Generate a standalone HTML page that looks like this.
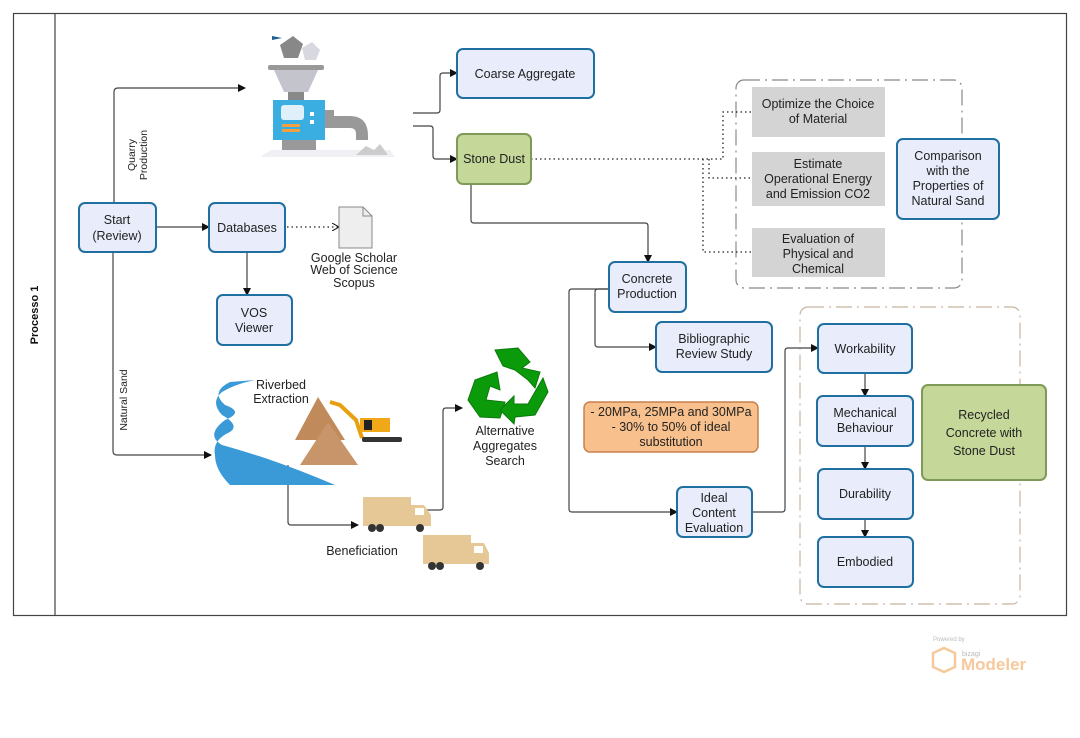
<!DOCTYPE html>
<html><head><meta charset="utf-8"><style>
html,body{margin:0;padding:0;background:#fff;}
svg{display:block;font-family:"Liberation Sans","DejaVu Sans",sans-serif;}
.n{fill:#e8ecfb;stroke:#1f6fa0;stroke-width:2;}
.t{font-size:12.5px;fill:#222;text-anchor:middle;}
.c{fill:none;stroke:#444;stroke-width:1.2;}
.d{fill:none;stroke:#222;stroke-width:1.3;stroke-dasharray:1.5 3;}
.g{fill:#d4d4d4;}
</style></head><body>
<svg width="1080" height="738" viewBox="0 0 1080 738">
<defs><marker id="a" markerWidth="8" markerHeight="8" refX="7" refY="4" orient="auto" markerUnits="userSpaceOnUse"><path d="M0,0 L8,4 L0,8 z" fill="#111"/></marker>
<marker id="o" markerWidth="8" markerHeight="8" refX="7" refY="4" orient="auto" markerUnits="userSpaceOnUse"><path d="M0,0 L7,4 L0,8" fill="none" stroke="#111"/></marker></defs>
<rect x="13.5" y="13.5" width="1053" height="602" fill="#fff" stroke="#444" stroke-width="1.2"/>
<line x1="55" y1="13" x2="55" y2="616" stroke="#444" stroke-width="1.2"/>
<text x="38" y="315" transform="rotate(-90 38 315)" font-size="11" font-weight="bold" text-anchor="middle" fill="#111">Processo 1</text>

<!-- dashed groups -->
<rect x="736" y="80" width="226" height="208" rx="8" fill="none" stroke="#888" stroke-width="1.2" stroke-dasharray="16 5 2 5"/>
<rect x="800" y="307" width="220" height="297" rx="8" fill="none" stroke="#c8b4a0" stroke-width="1.2" stroke-dasharray="16 5 2 5"/>

<!-- connectors -->
<path class="c" d="M114,203 V92 Q114,88 118,88 H245" marker-end="url(#a)"/>
<path class="c" d="M156,227 H209" marker-end="url(#a)"/>
<path class="c" d="M113,252 V451 Q113,455 117,455 H211" marker-end="url(#a)"/>
<path class="c" d="M247,252 V295" marker-end="url(#a)"/>
<path class="d" d="M287,227 H339" marker-end="url(#o)"/>
<path class="c" d="M413,113 H437 Q440,113 440,110 V76 Q440,73 443,73 H457" marker-end="url(#a)"/>
<path class="c" d="M413,126 H430 Q433,126 433,129 V156 Q433,159 436,159 H457" marker-end="url(#a)"/>
<path class="c" d="M471,184 V220 Q471,223 474,223 H645 Q648,223 648,226 V262" marker-end="url(#a)"/>
<path class="d" d="M531,159 H723 V112 H752"/>
<path class="d" d="M709,159 V178 H752"/>
<path class="d" d="M703,159 V252 H752"/>
<path class="c" d="M609,289 H572 Q569,289 569,292 V509 Q569,512 572,512 H677" marker-end="url(#a)"/>
<path class="c" d="M609,289 H598 Q595,289 595,292 V344 Q595,347 598,347 H656" marker-end="url(#a)"/>
<path class="c" d="M752,512 H782 Q785,512 785,509 V351 Q785,348 788,348 H818" marker-end="url(#a)"/>
<path class="c" d="M865,373 V396" marker-end="url(#a)"/>
<path class="c" d="M865,446 V469" marker-end="url(#a)"/>
<path class="c" d="M865,519 V537" marker-end="url(#a)"/>
<path class="c" d="M288,465 V522 Q288,525 291,525 H358" marker-end="url(#a)"/>
<path class="c" d="M425,510 H440 Q443,510 443,507 V411 Q443,408 446,408 H462" marker-end="url(#a)"/>

<!-- nodes -->
<rect class="n" x="79" y="203" width="77" height="49" rx="6"/>
<text class="t" x="117" y="224">Start</text><text class="t" x="117" y="240">(Review)</text>
<rect class="n" x="209" y="203" width="76" height="49" rx="6"/>
<text class="t" x="247" y="232">Databases</text>
<rect class="n" x="217" y="295" width="75" height="50" rx="6"/>
<text class="t" x="254" y="317">VOS</text><text class="t" x="254" y="332">Viewer</text>
<path d="M339,207 H363 L372,216 V248 H339 Z" fill="#eee" stroke="#888"/>
<path d="M363,207 V216 H372" fill="none" stroke="#888"/>
<text class="t" x="354" y="262" font-size="10.5">Google Scholar</text>
<text class="t" x="354" y="274" font-size="10.5">Web of Science</text>
<text class="t" x="354" y="287" font-size="10.5">Scopus</text>

<rect class="n" x="457" y="49" width="137" height="49" rx="6"/>
<text class="t" x="525" y="78">Coarse Aggregate</text>
<rect x="457" y="134" width="74" height="50" rx="6" fill="#c5d89a" stroke="#7f9a58" stroke-width="2"/>
<text class="t" x="494" y="163">Stone Dust</text>

<rect class="g" x="752" y="87" width="133" height="50"/>
<text class="t" x="818" y="108">Optimize the Choice</text><text class="t" x="818" y="123">of Material</text>
<rect class="g" x="752" y="152" width="133" height="54"/>
<text class="t" x="818" y="168">Estimate</text><text class="t" x="818" y="183">Operational Energy</text><text class="t" x="818" y="198">and Emission CO2</text>
<rect class="g" x="752" y="228" width="133" height="49"/>
<text class="t" x="818" y="243">Evaluation of</text><text class="t" x="818" y="258">Physical and</text><text class="t" x="818" y="273">Chemical</text>
<rect class="n" x="897" y="139" width="102" height="80" rx="6"/>
<text class="t" x="948" y="160">Comparison</text><text class="t" x="948" y="175">with the</text><text class="t" x="948" y="190">Properties of</text><text class="t" x="948" y="205">Natural Sand</text>

<rect class="n" x="609" y="262" width="77" height="50" rx="6"/>
<text class="t" x="647" y="283">Concrete</text><text class="t" x="647" y="298">Production</text>
<rect class="n" x="656" y="322" width="116" height="50" rx="6"/>
<text class="t" x="714" y="343">Bibliographic</text><text class="t" x="714" y="358">Review Study</text>
<rect x="584" y="402" width="174" height="50" rx="6" fill="#f8c08c" stroke="#c8804c" stroke-width="1.5"/>
<text class="t" x="671" y="416">- 20MPa, 25MPa and 30MPa</text><text class="t" x="671" y="431">- 30% to 50% of ideal</text><text class="t" x="671" y="446">substitution</text>
<rect class="n" x="677" y="487" width="75" height="50" rx="6"/>
<text class="t" x="714" y="502">Ideal</text><text class="t" x="714" y="517">Content</text><text class="t" x="714" y="532">Evaluation</text>

<rect class="n" x="818" y="324" width="94" height="49" rx="6"/>
<text class="t" x="865" y="353">Workability</text>
<rect class="n" x="817" y="396" width="96" height="50" rx="6"/>
<text class="t" x="865" y="417">Mechanical</text><text class="t" x="865" y="432">Behaviour</text>
<rect class="n" x="818" y="469" width="95" height="50" rx="6"/>
<text class="t" x="865" y="498">Durability</text>
<rect class="n" x="818" y="537" width="95" height="50" rx="6"/>
<text class="t" x="865" y="566">Embodied</text>
<rect x="922" y="385" width="124" height="95" rx="6" fill="#c5d89a" stroke="#7f9a58" stroke-width="2"/>
<text class="t" x="984" y="419" font-size="14">Recycled</text><text class="t" x="984" y="437" font-size="14">Concrete with</text><text class="t" x="984" y="455" font-size="14">Stone Dust</text>

<!-- labels -->
<text x="141" y="155" transform="rotate(-90 141 155)" font-size="10.5" text-anchor="middle" fill="#222"><tspan x="141" dy="-6">Quarry</tspan><tspan x="141" dy="12">Production</tspan></text>
<text x="127" y="400" transform="rotate(-90 127 400)" font-size="10.5" text-anchor="middle" fill="#222">Natural Sand</text>
<text class="t" x="281" y="389">Riverbed</text><text class="t" x="281" y="403">Extraction</text>
<text class="t" x="362" y="555">Beneficiation</text>
<text class="t" x="505" y="435">Alternative</text><text class="t" x="505" y="450">Aggregates</text><text class="t" x="505" y="465">Search</text>

<!-- crusher -->
<polygon points="272,36 282,38 272,40" fill="#1f5f90"/>
<polygon points="280,45 293,36 303,44 298,58 284,58" fill="#888"/>
<polygon points="302,48 312,42 320,50 316,60 305,60" fill="#d8d8e0"/>
<rect x="268" y="65" width="56" height="5" rx="2" fill="#999"/>
<polygon points="274,70 318,70 308,92 284,92" fill="#c4c4cc"/>
<rect x="288" y="92" width="16" to="" height="8" fill="#888"/>
<rect x="273" y="100" width="52" height="40" fill="#3aaee0"/>
<rect x="281" y="105" width="23" height="15" rx="3" fill="#e0f0fa"/>
<rect x="282" y="124" width="18" height="3" fill="#f0a040"/><rect x="282" y="129" width="18" height="3" fill="#f0a040"/>
<rect x="310" y="112" width="4" height="4" fill="#fff"/><rect x="310" y="120" width="4" height="4" fill="#fff"/>
<rect x="325" y="110" width="9" height="18" fill="#999"/>
<path d="M334,116 H350 Q368,116 368,136 V140 H356 V134 Q356,128 350,128 H334 Z" fill="#999"/>
<rect x="282" y="140" width="34" height="15" fill="#999"/>
<polygon points="262,155 272,150 390,150 395,157 262,157" fill="#f0f0f4"/>
<polygon points="356,155 366,146 374,150 380,144 388,155" fill="#ccc"/>

<!-- recycle -->
<g fill="#0a9a0a" stroke="#0a7a0a" stroke-width="1">
<polygon points="495,350 518,348 530,362 522,368 540,372 535,388 528,380 515,370 503,366"/>
<polygon points="475,380 497,372 500,390 490,386 486,400 505,402 500,418 480,417 468,400"/>
<polygon points="543,378 548,392 535,415 515,417 514,424 500,410 514,396 514,404 528,404 536,390"/>
</g>

<!-- river & sand piles & excavator -->
<path d="M230,382 Q210,392 225,405 Q245,412 225,420 Q205,435 222,445 Q240,450 265,458 Q300,470 335,485 H230 Q215,470 215,455 Q212,440 230,432 Q240,425 222,415 Q210,402 222,392 Q235,384 255,380 Z" fill="#3a9ad8"/>
<path d="M295,440 L318,397 L345,440 Z" fill="#c08a5a"/>
<path d="M300,465 L328,422 L358,465 Z" fill="#c8946a"/>
<path d="M330,402 L340,405 L356,420 L362,438" fill="none" stroke="#e8a010" stroke-width="4"/>
<rect x="360" y="418" width="30" height="14" fill="#f0a818"/>
<rect x="364" y="420" width="8" height="10" fill="#222"/>
<rect x="362" y="437" width="40" height="5" rx="2" fill="#333"/>

<!-- trucks -->
<g>
<rect x="363" y="497" width="48" height="29" fill="#e6c896"/>
<path d="M411,505 H424 L431,515 V526 H411 Z" fill="#e6c896"/>
<rect x="415" y="508" width="9" height="7" fill="#fff"/>
<circle cx="372" cy="528" r="4" fill="#333"/><circle cx="380" cy="528" r="4" fill="#333"/><circle cx="420" cy="528" r="4" fill="#333"/>
</g>
<g>
<rect x="423" y="535" width="48" height="29" fill="#e6c896"/>
<path d="M471,543 H484 L489,553 V564 H471 Z" fill="#e6c896"/>
<rect x="474" y="546" width="9" height="7" fill="#fff"/>
<circle cx="432" cy="566" r="4" fill="#333"/><circle cx="440" cy="566" r="4" fill="#333"/><circle cx="480" cy="566" r="4" fill="#333"/>
</g>

<!-- bizagi -->
<text x="933" y="641" font-size="6" fill="#bbb">Powered by</text>
<polygon points="944,648 955,653 955,667 944,672 933,667 933,653" fill="none" stroke="#f6c89a" stroke-width="2.5"/>
<text x="962" y="656" font-size="7" fill="#bbb">bizagi</text>
<text x="961" y="670" font-size="17" font-weight="bold" fill="#f6c89a">Modeler</text>
</svg>
</body></html>
